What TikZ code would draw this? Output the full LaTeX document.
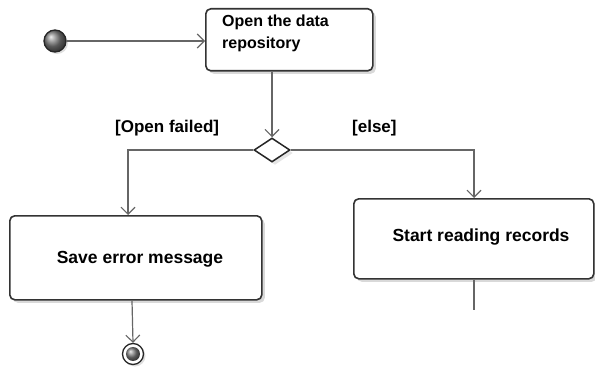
\documentclass[tikz,border=0pt]{standalone}
\usepackage{fontspec}
\setmainfont{Liberation Sans}
\usetikzlibrary{arrows.meta,shadows,shapes.geometric}
\begin{document}
\begin{tikzpicture}[x=1pt,y=-1pt,
  act/.style={draw=black!80,line width=1.6pt,rounded corners=5pt,fill=white,
    drop shadow={shadow xshift=3pt,shadow yshift=-3pt,fill=black!25,opacity=0.6}},
  flow/.style={draw=black!60,line width=1.2pt,-{Straight Barb[length=7pt,width=14pt,line width=1.1pt]}},
  plain/.style={draw=black!60,line width=1.2pt},
  txt/.style={font=\fontsize{17.5}{20}\selectfont\bfseries,inner sep=0pt},
  guard/.style={font=\fontsize{17}{19}\selectfont\bfseries,inner sep=0pt}]
\useasboundingbox (0,0) rectangle (595,369);
% start
\node[circle,draw=black!85,line width=1.3pt,minimum size=22pt,inner sep=0pt,
  ball color=black!50,drop shadow={shadow xshift=2pt,shadow yshift=-2pt,fill=black!25,opacity=0.5}] (start) at (55,41) {};
% boxes
\node[act,minimum width=167pt,minimum height=62pt,anchor=north west,inner sep=0pt] (open) at (205,8) {};
\node[font=\fontsize{16}{22}\selectfont\bfseries,align=left,anchor=north west,inner sep=0pt] (opentxt) at (222,15) {Open the data\\repository};
\node[act,minimum width=252pt,minimum height=84pt,anchor=north west] (save) at (9,215) {};
\node[txt] (savetxt) at (140,259) {Save error message};
\node[act,minimum width=240pt,minimum height=80pt,anchor=north west] (read) at (353,198) {};
\node[txt] (readtxt) at (481,237) {Start reading records};
% decision
\node[diamond,draw=black!85,line width=1.5pt,fill=white,minimum width=36pt,minimum height=24pt,inner sep=0pt,aspect=1.5,
  drop shadow={shadow xshift=3pt,shadow yshift=-3pt,fill=black!20,opacity=0.5}] (dec) at (272,150) {};
% end
\node[circle,draw=black!85,line width=1.3pt,fill=white,minimum size=21pt,inner sep=0pt,
  drop shadow={shadow xshift=2pt,shadow yshift=-2pt,fill=black!25,opacity=0.5}] (fin) at (133,354) {};
\node[circle,ball color=black!50,minimum size=14pt,inner sep=0pt] (fininner) at (fin.center) {};
% flows
\draw[flow] (start.east) -- (open.west |- start.east);
\draw[flow] (open.south -| 272,0) -- (dec.north);
\draw[flow] (dec.west) -| (save.north -| 128,0);
\draw[flow] (dec.east) -| (read.north -| 474,0);
\draw[flow] (save.south -| 132,0) -- (fin.north);
\coordinate (readend) at (474,310);
\draw[plain] (read.south -| 474,0) -- (readend);
% guards
\node[guard,anchor=west] (g1) at (115,128) {[Open failed]};
\node[guard,anchor=west] (g2) at (352,128) {[else]};
\end{tikzpicture}
\end{document}
